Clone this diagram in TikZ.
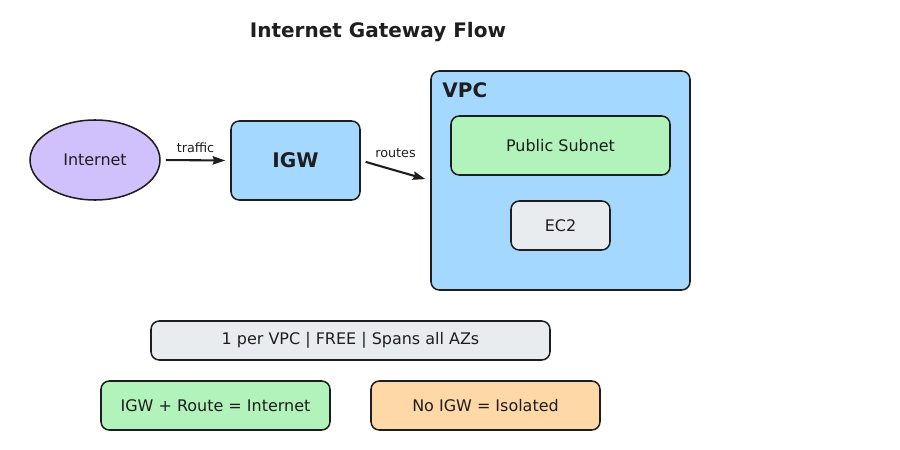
\documentclass[tikz,border=0pt]{standalone}
\usepackage{fontspec}
\setmainfont{DejaVu Sans}
\usetikzlibrary{arrows.meta,positioning,shapes.geometric}

\definecolor{ink}{HTML}{1E1E1E}
\definecolor{lav}{HTML}{D0C0FC}
\definecolor{sky}{HTML}{A5D8FF}
\definecolor{mint}{HTML}{B2F2BB}
\definecolor{fog}{HTML}{E9ECEF}
\definecolor{peach}{HTML}{FFD8A8}
\newcommand{\px}{0.72pt}

\tikzset{
  box/.style={draw=ink,line width=1.1pt,rounded corners=6pt,text=ink,font=\fontsize{11.5}{13}\selectfont},
  flow/.style={draw=ink,line width=1.5pt,-{Stealth[length=9pt,width=6pt,inset=1pt]},shorten <=3.6pt,shorten >=3.6pt},
  tag/.style={text=ink,font=\fontsize{9.2}{11}\selectfont}
}

\begin{document}
\begin{tikzpicture}[x=0.72pt,y=-0.72pt]
\useasboundingbox (0,0) rectangle (900,450);
\node[text=ink,font=\bfseries\fontsize{14.4}{17}\selectfont] (title) at (378,32) {Internet Gateway Flow};
% top row
\node[ellipse,draw=ink,line width=1.1pt,fill=lav,text=ink,font=\fontsize{11.5}{13}\selectfont,
  minimum width=130*\px,minimum height=80*\px] (net) at (95,160) {Internet};
\node[box,fill=sky,minimum width=129*\px,minimum height=79*\px,font=\bfseries\fontsize{14.5}{17}\selectfont] (igw) at (295.5,160.5) {IGW};
\node[box,fill=sky,minimum width=259*\px,minimum height=219*\px] (vpc) at (560.5,180.5) {};
\node[text=ink,font=\bfseries\fontsize{14.4}{17}\selectfont,anchor=west] (vpclbl) at (437.5,90) {VPC};
\node[box,fill=mint,minimum width=219*\px,minimum height=59*\px] (pub) at (560.5,145.5) {Public Subnet};
\node[box,fill=fog,minimum width=99*\px,minimum height=49*\px] (ec2) at (560.5,225.5) {EC2};
\draw[flow] (net.east) -- node[tag,above=1.5pt]{traffic} (igw.west);
\draw[flow] (igw.east) -- node[tag,above=5.5pt,pos=0.5]{routes} (vpc.west);
% notes
\node[box,fill=fog,minimum width=399*\px,minimum height=39*\px] (facts) at (350.5,340.5) {1 per VPC | FREE | Spans all AZs};
\foreach \x/\col/\name/\txt in {215.5/mint/with/IGW + Route = Internet,485.5/peach/without/No IGW = Isolated}{
\node[box,fill=\col,minimum width=229*\px,minimum height=49*\px] (\name) at (\x,405.5) {\txt};}
\end{tikzpicture}
\end{document}
